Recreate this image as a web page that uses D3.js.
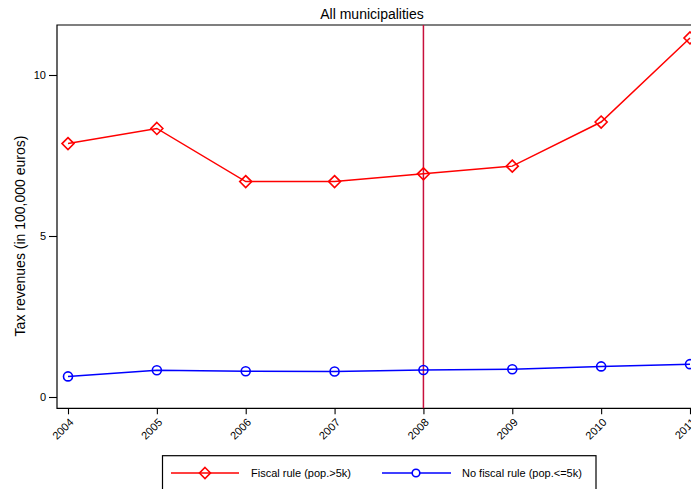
<!DOCTYPE html>
<html><head><meta charset="utf-8">
<script src="https://cdn.jsdelivr.net/npm/d3@7"></script>
<style>body{margin:0;background:#fff}svg{display:block;font-family:"Liberation Sans",Arial,Helvetica,sans-serif}</style>
</head><body>
<svg id="c" width="691" height="489"></svg>
<script>
const years = [2004, 2005, 2006, 2007, 2008, 2009, 2010, 2011];
const fiscalRule = [7.87, 8.34, 6.69, 6.69, 6.93, 7.17, 8.54, 11.15];
const noFiscalRule = [0.64, 0.83, 0.80, 0.79, 0.84, 0.86, 0.95, 1.02];
const yTicks = [0, 5, 10];
const cutoffYear = 2008;
const title = "All municipalities";
const yLabel = "Tax revenues (in 100,000 euros)";
const legendLabels = ["Fiscal rule (pop.>5k)", "No fiscal rule (pop.<=5k)"];

const svg = d3.select("#c");
const x = d3.scaleLinear().domain([2004, 2011]).range([68, 690]);
const y = d3.scaleLinear().domain([0, 10]).range([397, 75]);
const frameL = 57, frameT = 25, frameB = 408.3, frameR = 702;

// frame (left, top, bottom)
svg.append("path").attr("d", `M${frameR},${frameT}H${frameL}V${frameB}H${frameR}`)
  .attr("fill", "none").attr("stroke", "#000").attr("stroke-width", 1.2);

// y axis
const yAx = svg.append("g").attr("transform", `translate(${frameL},0)`)
  .call(d3.axisLeft(y).tickValues(yTicks).tickSize(8).tickPadding(3).tickFormat(d3.format("d")));
yAx.select(".domain").remove();
yAx.selectAll("line").attr("stroke-width", 1.1);
yAx.selectAll("text").attr("font-size", 11).attr("font-family", "Liberation Sans, Arial, sans-serif").attr("fill", "#000");

// x axis
const xAx = svg.append("g").attr("transform", `translate(0,${frameB})`)
  .call(d3.axisBottom(x).tickValues(years).tickSize(6).tickFormat(d3.format("d")));
xAx.select(".domain").remove();
xAx.selectAll("line").attr("stroke-width", 1.1);
xAx.selectAll("text").attr("font-size", 11).attr("font-family", "Liberation Sans, Arial, sans-serif").attr("fill", "#000")
  .attr("text-anchor", "end").attr("dy", "0.35em").attr("y", 0).attr("x", 0)
  .attr("transform", "translate(3,12) rotate(-45)");

// vertical cutoff line
svg.append("line").attr("x1", x(cutoffYear)).attr("x2", x(cutoffYear))
  .attr("y1", frameT).attr("y2", frameB).attr("stroke", "#c8103c").attr("stroke-width", 1.5);

const line = d3.line().x((d, i) => x(years[i])).y(d => y(d));
svg.append("path").datum(fiscalRule).attr("d", line).attr("fill", "none").attr("stroke", "#ff0000").attr("stroke-width", 1.5);
svg.append("path").datum(noFiscalRule).attr("d", line).attr("fill", "none").attr("stroke", "#0000ff").attr("stroke-width", 1.5);

function diamond(g, cx, cy, r) {
  g.append("path").attr("d", `M${cx},${cy - r}L${cx + r},${cy}L${cx},${cy + r}L${cx - r},${cy}Z`)
    .attr("fill", "none").attr("stroke", "#ff0000").attr("stroke-width", 1.6);
}
fiscalRule.forEach((v, i) => diamond(svg, x(years[i]), y(v), 6));
svg.selectAll("circle.nf").data(noFiscalRule).join("circle").attr("class", "nf")
  .attr("cx", (d, i) => x(years[i])).attr("cy", d => y(d)).attr("r", 4.5)
  .attr("fill", "none").attr("stroke", "#0000ff").attr("stroke-width", 1.6);

// title
svg.append("text").attr("x", 372).attr("y", 19).attr("text-anchor", "middle")
  .attr("font-size", 14).text(title);
// y label
svg.append("text").attr("transform", `translate(25,236) rotate(-90)`).attr("text-anchor", "middle")
  .attr("font-size", 14).text(yLabel);

// legend
const lg = svg.append("g");
lg.append("rect").attr("x", 162.5).attr("y", 455.7).attr("width", 433.5).attr("height", 50)
  .attr("fill", "#fff").attr("stroke", "#000").attr("stroke-width", 1.2);
const ly = 473;
lg.append("line").attr("x1", 171).attr("x2", 239).attr("y1", ly).attr("y2", ly).attr("stroke", "#ff0000").attr("stroke-width", 1.5);
diamond(lg, 205, ly, 5.5);
lg.append("text").attr("x", 251).attr("y", ly + 4).attr("font-size", 11).text(legendLabels[0]);
lg.append("line").attr("x1", 382).attr("x2", 451).attr("y1", ly).attr("y2", ly).attr("stroke", "#0000ff").attr("stroke-width", 1.5);
lg.append("circle").attr("cx", 416).attr("cy", ly).attr("r", 3.8).attr("fill", "#fff").attr("stroke", "#0000ff").attr("stroke-width", 1.6);
lg.append("text").attr("x", 462).attr("y", ly + 4).attr("font-size", 11).text(legendLabels[1]);
</script>
</body></html>
